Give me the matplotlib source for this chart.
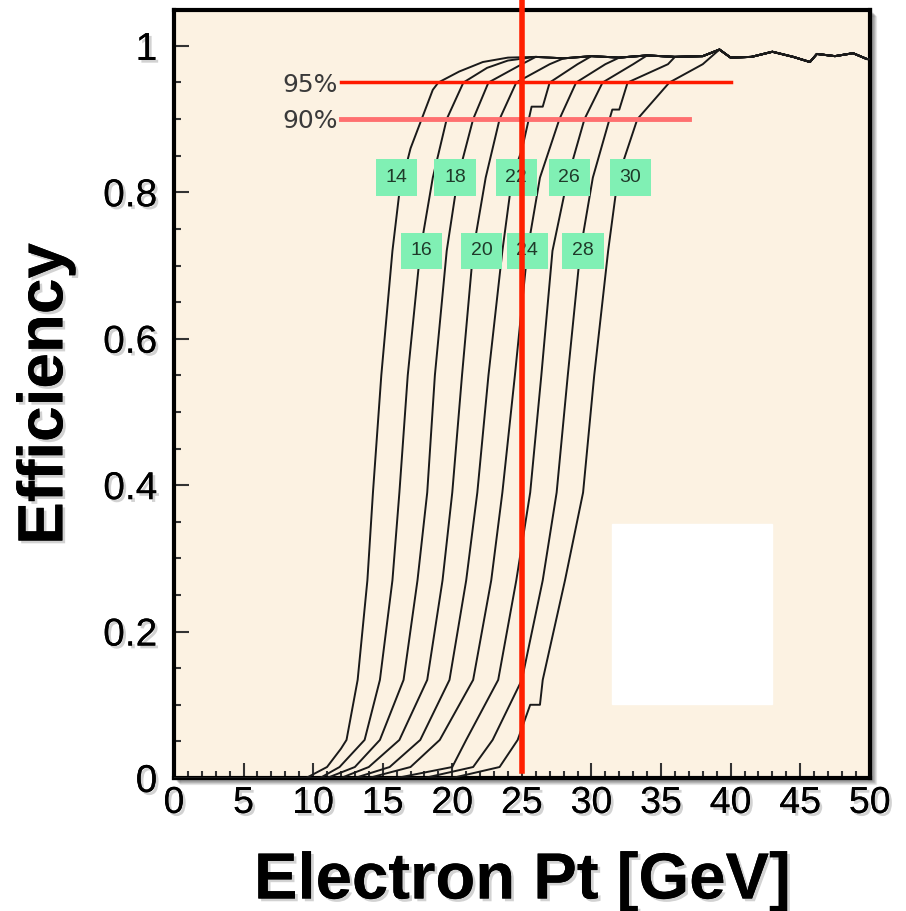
import matplotlib
matplotlib.use("Agg")
import matplotlib.pyplot as plt
import matplotlib.patheffects as pe
from matplotlib.patches import Rectangle
from matplotlib.ticker import MultipleLocator

# thresholds of the turn-on curves
thresholds = [14, 16, 18, 20, 22, 24, 26, 28, 30]

# rising part of each curve (x in GeV, efficiency)
rise_x = {
    14: [0, 9.5, 11.0, 12.0, 12.4, 13.2, 13.9, 14.3, 14.9, 15.7, 16.2, 17.0, 17.8, 18.6, 19.0, 20.5, 22.2],
    16: [0, 10.5, 11.9, 13.7, 14.8, 15.7, 16.2, 16.8, 17.7, 18.6, 19.6, 20.8, 22.5, 24.0],
    18: [0, 11.0, 13.0, 14.8, 16.5, 17.5, 18.2, 18.75, 19.6, 20.4, 21.5, 22.6, 25.0],
    20: [0, 12.0, 14.0, 16.2, 18.2, 19.3, 20.0, 20.7, 21.5, 22.4, 23.4, 24.6, 27.0],
    22: [0, 13.0, 15.5, 17.7, 19.8, 21.0, 21.8, 22.6, 23.6, 24.3, 25.0, 25.5, 25.7, 26.5, 27.0, 29.0],
    24: [0, 14.0, 17.0, 19.1, 21.5, 22.8, 23.6, 24.5, 25.4, 26.3, 27.7, 28.9, 31.0],
    26: [0, 16.0, 20.0, 21.0, 23.3, 24.6, 25.6, 26.4, 27.2, 28.3, 29.5, 30.8, 33.0],
    28: [0, 18.0, 21.5, 22.9, 25.0, 26.5, 27.5, 28.3, 29.2, 30.1, 31.3, 31.5, 32.0, 32.6, 35.5],
    30: [0, 20.0, 23.4, 24.7, 25.6, 26.3, 26.5, 28.1, 29.4, 30.2, 31.2, 31.9, 33.3, 35.6, 38.0, 39.2],
}
rise_y = {
    14: [0, 0, 0.015, 0.04, 0.052, 0.134, 0.27, 0.39, 0.55, 0.72, 0.80, 0.86, 0.90, 0.94, 0.95, 0.965, 0.978],
    16: [0, 0, 0.015, 0.052, 0.134, 0.27, 0.39, 0.55, 0.72, 0.82, 0.90, 0.95, 0.97, 0.98],
    18: [0, 0, 0.015, 0.052, 0.134, 0.27, 0.39, 0.55, 0.72, 0.82, 0.90, 0.95, 0.975],
    20: [0, 0, 0.015, 0.052, 0.134, 0.27, 0.39, 0.55, 0.72, 0.82, 0.90, 0.95, 0.975],
    22: [0, 0, 0.015, 0.052, 0.134, 0.27, 0.39, 0.55, 0.72, 0.82, 0.858, 0.90, 0.917, 0.917, 0.95, 0.975],
    24: [0, 0, 0.015, 0.052, 0.134, 0.27, 0.39, 0.55, 0.72, 0.82, 0.90, 0.95, 0.975],
    26: [0, 0, 0.015, 0.052, 0.134, 0.27, 0.39, 0.55, 0.72, 0.82, 0.90, 0.95, 0.975],
    28: [0, 0, 0.015, 0.052, 0.134, 0.27, 0.39, 0.55, 0.72, 0.82, 0.90, 0.913, 0.913, 0.95, 0.975],
    30: [0, 0, 0.015, 0.052, 0.10, 0.10, 0.134, 0.27, 0.39, 0.55, 0.72, 0.82, 0.90, 0.95, 0.975, 0.995],
}

# common plateau all curves end on
plateau_x = [20, 22, 24, 26, 28, 30, 32, 34, 36, 38, 39.2, 40, 41.5, 43.0, 44.5, 45.7, 46.2, 47.5, 48.8, 49.8, 50]
plateau_y = [0.978, 0.982, 0.984, 0.985, 0.983, 0.986, 0.984, 0.987, 0.985, 0.986, 0.995, 0.984,
             0.985, 0.992, 0.985, 0.978, 0.989, 0.986, 0.990, 0.982, 0.982]

# threshold label boxes (x, efficiency)
label_x = {14: 16.0, 18: 20.2, 22: 24.6, 26: 28.4, 30: 32.8, 16: 17.8, 20: 22.1, 24: 25.4, 28: 29.4}
label_y = {14: 0.82, 18: 0.82, 22: 0.82, 26: 0.82, 30: 0.82, 16: 0.72, 20: 0.72, 24: 0.72, 28: 0.72}

ref_levels = [0.95, 0.90]
ref_names = ["95%", "90%"]
ref_end = [40, 37]
cut_value = 25

y_ticks = [0, 0.2, 0.4, 0.6, 0.8, 1.0]
y_tick_labels = ["0", "0.2", "0.4", "0.6", "0.8", "1"]

fig = plt.figure(figsize=(9.06, 9.11), dpi=100)
ax = fig.add_axes([0.192, 0.146, 0.768, 0.843])
ax.set_facecolor("#fcf2e2")

# soft shadow behind the frame
for k, a in enumerate([0.10, 0.10, 0.10, 0.08, 0.06]):
    off = (k + 2) / 906
    fig.patches.append(Rectangle((0.192 + off, 0.146 - off * 906 / 911), 0.768, 0.843,
                                 transform=fig.transFigure, color="black", alpha=a, zorder=-5))

for t in thresholds:
    xs = list(rise_x[t])
    ys = list(rise_y[t])
    for px, py in zip(plateau_x, plateau_y):
        if px > xs[-1]:
            xs.append(px)
            ys.append(py)
    ax.plot(xs, ys, color="#1a1a1a", lw=1.4, zorder=3)

for t in thresholds:
    ax.text(label_x[t], label_y[t], str(t), ha="center", va="center", fontsize=14,
            color="#1f3a2a", zorder=4, family="Liberation Sans",
            bbox=dict(boxstyle="square,pad=0.5", fc="#80f0b4", ec="none"))

colors = ["#ff1a00", "#ff7070"]
widths = [2.5, 3.5]
for lev, name, end, c, w in zip(ref_levels, ref_names, ref_end, colors, widths):
    ax.plot([12, end], [lev, lev], color=c, lw=w, zorder=5)
    ax.text(11.8, lev - 0.003, name, ha="right", va="center", fontsize=18, color="#3a3a3a",
            family="DejaVu Sans", zorder=5)

ax.plot([cut_value, cut_value], [0.01, 1.063], color="#ff2000", lw=4, zorder=6, clip_on=False)

ax.add_patch(Rectangle((31.5, 0.101), 11.5, 0.246, color="white", zorder=7))

ax.set_xlim(0, 50)
ax.set_ylim(0, 1.049)
ax.xaxis.set_major_locator(MultipleLocator(5))
ax.xaxis.set_minor_locator(MultipleLocator(1))
ax.yaxis.set_minor_locator(MultipleLocator(0.05))
ax.set_yticks(y_ticks, y_tick_labels)
ax.tick_params(which="both", direction="in", color="#333333", width=1.5, top=False, right=False)
ax.tick_params(which="major", length=11)
ax.tick_params(which="minor", length=5)
ax.tick_params(axis="x", labelsize=27, pad=5)
ax.tick_params(axis="y", labelsize=28, pad=12)
for sp in ax.spines.values():
    sp.set_linewidth(3)
    sp.set_color("black")

shadow = [pe.withSimplePatchShadow(offset=(2, -2), shadow_rgbFace="gray", alpha=0.35), pe.Normal()]
for lab in ax.get_xticklabels() + ax.get_yticklabels():
    lab.set_family("Liberation Sans")
    lab.set_path_effects(shadow)

ax.set_xlabel("Electron Pt [GeV]", fontsize=47, fontweight="bold", family="Liberation Sans",
              labelpad=22, path_effects=shadow)
ax.set_ylabel("Efficiency", fontsize=46, fontweight="bold", family="Liberation Sans",
              labelpad=20, path_effects=shadow)

fig.savefig("out.png", dpi=100, facecolor="white")
